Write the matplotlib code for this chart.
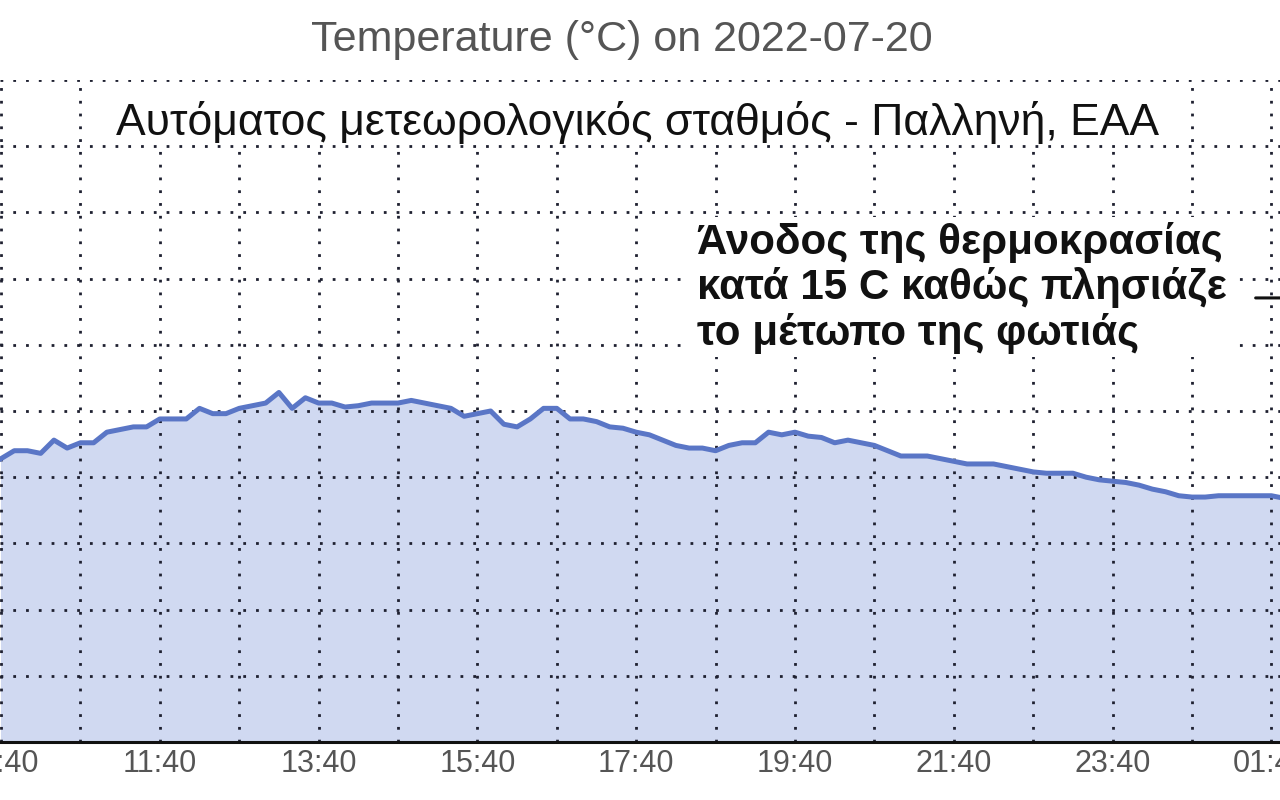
import matplotlib
matplotlib.use("Agg")
import matplotlib.pyplot as plt
import matplotlib.dates as mdates
from matplotlib.patches import Rectangle
import pandas as pd
import numpy as np

plt.rcParams['font.family'] = ['Liberation Sans', 'DejaVu Sans']

# ---- data ----
start_time = "2022-07-20 09:40"
temps = [25.7, 26.0, 26.0, 25.9, 26.4, 26.1, 26.3, 26.3, 26.7, 26.8,
         26.9, 26.9, 27.2, 27.2, 27.2, 27.6, 27.4, 27.4, 27.6, 27.7,
         27.8, 28.2, 27.6, 28.0, 27.8, 27.8, 27.65, 27.7, 27.8, 27.8,
         27.8, 27.9, 27.8, 27.7, 27.6, 27.3, 27.4, 27.5, 27.0, 26.9,
         27.2, 27.6, 27.6, 27.2, 27.2, 27.1, 26.9, 26.85, 26.7, 26.6,
         26.4, 26.2, 26.1, 26.1, 26.0, 26.2, 26.3, 26.3, 26.7, 26.6,
         26.7, 26.55, 26.5, 26.3, 26.4, 26.3, 26.2, 26.0, 25.8, 25.8,
         25.8, 25.7, 25.6, 25.5, 25.5, 25.5, 25.4, 25.3, 25.2, 25.15,
         25.15, 25.15, 25.0, 24.9, 24.85, 24.8, 24.7, 24.55, 24.45, 24.3,
         24.25, 24.25, 24.3, 24.3, 24.3, 24.3, 24.3, 24.2]
times = pd.date_range(start_time, periods=len(temps), freq="10min")

title = "Temperature (°C) on 2022-07-20"
subtitle = "Αυτόματος μετεωρολογικός σταθμός - Παλληνή, ΕΑΑ"
note = "Άνοδος της θερμοκρασίας\nκατά 15 C καθώς πλησιάζε\nτο μέτωπο της φωτιάς"
y_min, y_max, y_step = 15, 40, 2.5
arrow_start = ("2022-07-21 01:26", 31.77)
arrow_end = ("2022-07-21 02:10", 31.77)

# ---- figure ----
W, H = 1280, 800
fig = plt.figure(figsize=(12.8, 8), dpi=100)
ax = fig.add_axes([0, 58 / H, 1, 662 / H])

t0 = pd.Timestamp(start_time)
px_per_hour = 79.4
xl = t0 - pd.Timedelta(hours=1 / px_per_hour)
xr = t0 + pd.Timedelta(hours=1279 / px_per_hour)
ax.set_xlim(mdates.date2num(xl), mdates.date2num(xr))
ax.set_ylim(y_min, y_max)

line_color = "#5a76c6"
fill_color = "#d0d9f1"
ax.fill_between(times, temps, y_min, color=fill_color, zorder=1, linewidth=0)
ax.plot(times, temps, color=line_color, linewidth=3.6, zorder=4,
        solid_joinstyle='round')

# grid
hour_ticks = pd.date_range(start_time, "2022-07-21 01:40", freq="1h")
ax.set_xticks(mdates.date2num(hour_ticks))
ax.set_xticklabels([t.strftime("%H:%M") if i % 2 == 0 else ""
                    for i, t in enumerate(hour_ticks)])
ax.set_yticks(np.arange(y_min, y_max + 0.01, y_step))
ax.set_yticklabels([])
ax.grid(True, color="#1e2030", linestyle=(0, (1, 3.6)), linewidth=2.0, zorder=3)
ax.set_axisbelow(False)
ax.tick_params(axis='both', length=0)
ax.tick_params(axis='x', labelsize=22, colors="#555555", pad=5)

for s in ['left', 'right', 'top']:
    ax.spines[s].set_visible(False)
ax.spines['bottom'].set_color("#111111")
ax.spines['bottom'].set_linewidth(2.2)
ax.spines['bottom'].set_zorder(5)

# white backgrounds behind annotation texts
def white_box(x0, y0, x1, y1):
    fig.add_artist(Rectangle((x0 / W, 1 - y1 / H), (x1 - x0) / W, (y1 - y0) / H,
                             transform=fig.transFigure, facecolor='white',
                             edgecolor='none', zorder=2))

white_box(100, 84, 1178, 144)
white_box(688, 217, 1236, 357)

# texts
fig.text(622 / W, 1 - 40 / H, title, ha='center', va='center',
         fontsize=31, color="#555555", zorder=3)
fig.text(638 / W, 1 - 123 / H, subtitle, ha='center', va='center',
         fontsize=32, color="#111111", zorder=3)
fig.text(697 / W, 1 - 288 / H, note, ha='left', va='center',
         fontsize=30.3, fontweight='bold', color="#111111", linespacing=1.13,
         zorder=3)

ax.annotate("", xy=(mdates.date2num(pd.Timestamp(arrow_end[0])), arrow_end[1]),
            xytext=(mdates.date2num(pd.Timestamp(arrow_start[0])), arrow_start[1]),
            arrowprops=dict(arrowstyle='-', color='#111111', lw=2.2),
            annotation_clip=False, zorder=6)

fig.savefig("out.png", dpi=100)
